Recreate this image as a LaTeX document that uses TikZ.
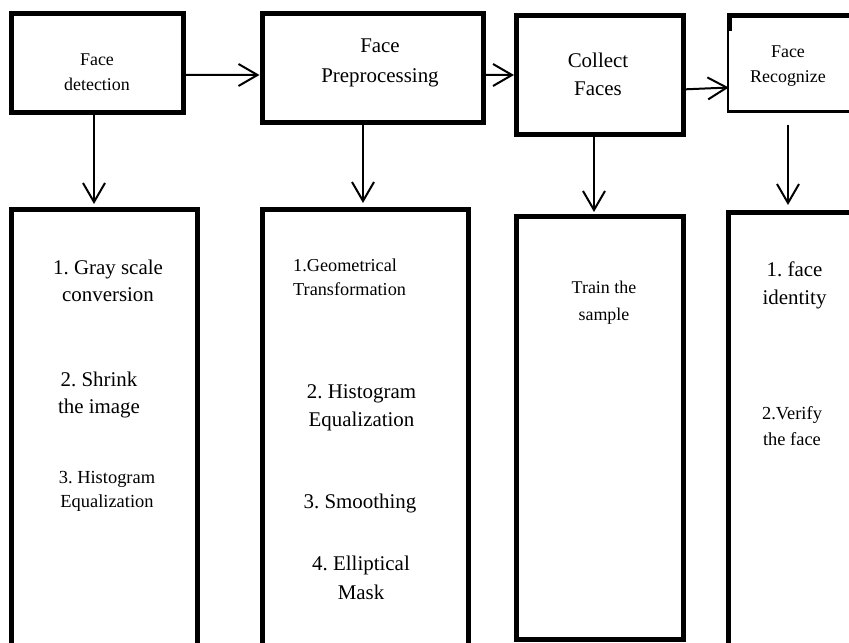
\documentclass[tikz,border=0pt]{standalone}
\usepackage{fontspec}
\setmainfont{Liberation Serif}
\usetikzlibrary{arrows.meta}
\frenchspacing
\begin{document}
\begin{tikzpicture}[x=1bp,y=-1bp,
  thickbox/.style={draw, line width=5bp, inner sep=0pt, rectangle},
  thinbox/.style={draw, line width=2.5bp, inner sep=0pt, rectangle},
  arr/.style={line width=2bp, -{Straight Barb[length=19bp,width=22bp]}},
  fs/.style={font=\fontsize{18}{25}\selectfont, align=center, inner sep=0pt},
  fl/.style={font=\fontsize{21}{28}\selectfont, align=center, inner sep=0pt}]
\useasboundingbox[fill=white] (0,0) rectangle (849,643);

% top boxes
\node[thickbox, minimum width=171.5bp, minimum height=99bp] (b1) at (97.25,63.5) {};
\node[thickbox, minimum width=221.5bp, minimum height=109bp] (b2) at (372.75,68.5) {};
\node[thickbox, minimum width=167bp, minimum height=119bp] (b3) at (600,75) {};
\node[thinbox, minimum width=142bp, minimum height=96bp] (b4) at (799,63.5) {};
\draw[line width=5bp] ([yshift=-1.25bp]b4.north west) -- ([yshift=-1.25bp]b4.north east);
\draw[line width=5bp] ([xshift=2.5bp,yshift=-1.25bp]b4.north west) -- ([xshift=2.5bp,yshift=-17bp]b4.north west);

% bottom boxes
\node[thickbox, minimum width=185.5bp, minimum height=450.5bp] (B1) at (104.25,434.75) {};
\node[thickbox, minimum width=206.5bp, minimum height=450.5bp] (B2) at (365.25,434.75) {};
\node[thickbox, minimum width=167bp, minimum height=423bp] (B3) at (600,428) {};
\node[thickbox, minimum width=141.5bp, minimum height=447.5bp] (B4) at (799.25,436.25) {};

% top texts
\node[fs] (t1) at (97,72) {Face\\detection};
\node[fl, font=\fontsize{21}{30}\selectfont] (t2) at (380,63) {Face\\Preprocessing};
\node[fl] (t3) at (598,74) {Collect\\Faces};
\node[fs] (t4) at (788,66) {Face\\Recognize};

% bottom texts
\node[fl, font=\fontsize{21}{27}\selectfont] (u1) at (108,281) {1. Gray scale\\conversion};
\node[fl, font=\fontsize{21}{27}\selectfont] (u2) at (99,395) {2. Shrink\\the image};
\node[fs, font=\fontsize{18.5}{24}\selectfont] (u3) at (107,491) {3. Histogram\\Equalization};

\node[fs, align=left, anchor=west, font=\fontsize{18.3}{24}\selectfont] (v1) at (293,277) {1.Geometrical\\Transformation};
\node[fl] (v2) at (361.5,408) {2. Histogram\\Equalization};
\node[fl] (v3) at (360,503) {3. Smoothing};
\node[fl, font=\fontsize{21}{29}\selectfont] (v4) at (361,578) {4. Elliptical\\Mask};

\node[fs, font=\fontsize{18}{27}\selectfont] (w1) at (604,303) {Train the\\sample};

\node[fl] (x1) at (794.5,285) {1. face\\identity};
\node[fs, font=\fontsize{18.5}{26}\selectfont] (x2) at (792,426) {2.Verify\\the face};

% horizontal connectors
\draw[arr] ([yshift=-11.5bp]b1.east) -- ([yshift=-6.5bp]b2.west);
\draw[arr] ([yshift=-6.5bp]b2.east) -- (b3.west);
\draw[arr] ([yshift=-14.3bp]b3.east) -- ([xshift=2bp,yshift=-24bp]b4.west);

% vertical connectors
\coordinate (d1) at ([xshift=-3.25bp]b1.south);
\coordinate (d2) at ([xshift=-9.75bp]b2.south);
\coordinate (d3) at ([xshift=-6bp]b3.south);
\coordinate (d4) at ([xshift=-11bp,yshift=-12bp]b4.south);
\draw[arr] (d1) -- ([yshift=3bp]d1 |- B1.north);
\draw[arr] (d2) -- ([yshift=4bp]d2 |- B2.north);
\draw[arr] (d3) -- ([yshift=2bp]d3 |- B3.north);
\draw[arr] (d4) -- ([yshift=5bp]d4 |- B4.north);
\end{tikzpicture}
\end{document}
